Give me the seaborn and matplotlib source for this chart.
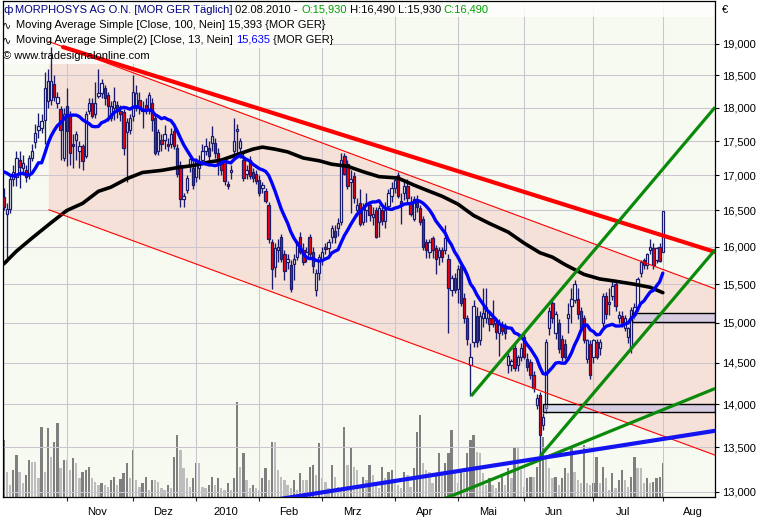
import numpy as np
import pandas as pd
import matplotlib
matplotlib.use("Agg")
import matplotlib.pyplot as plt
import seaborn as sns
from matplotlib.patches import Rectangle, Polygon
from matplotlib.ticker import FixedLocator, NullLocator, FuncFormatter, FixedFormatter

sns.set_style("white")
plt.rcParams['font.family'] = ['Liberation Sans', 'DejaVu Sans']

# ---------------- data (daily bars, MorphoSys, Oct 2009 - 02.08.2010) ----------------
opens = [16.69,16.45,16.52,16.95,16.98,17.22,17.10,17.08,17.00,17.25,
         17.48,17.66,17.70,17.82,18.10,18.12,18.36,18.08,17.98,17.25,
         18.02,17.87,17.45,17.52,17.36,17.42,17.28,17.95,18.08,17.90,
         18.18,18.22,18.30,18.20,17.85,18.00,18.05,17.95,17.93,17.63,
         17.67,17.87,18.00,18.12,17.98,18.05,17.97,18.08,17.85,17.36,
         17.52,17.51,17.45,17.45,17.65,17.40,17.15,16.66,16.79,17.13,
         17.10,16.98,17.10,17.22,17.36,17.40,17.47,17.47,17.32,17.17,
         17.22,16.88,17.05,17.36,17.65,17.39,17.22,17.02,17.22,17.05,
         17.02,16.93,16.82,16.77,16.57,16.06,15.73,15.95,16.13,15.90,
         15.80,15.76,15.77,15.86,16.14,15.95,15.88,16.14,15.93,15.42,
         15.65,15.82,16.00,15.99,16.14,16.22,16.25,16.34,17.28,17.17,
         16.90,16.99,16.51,16.60,16.34,16.51,16.57,16.41,16.50,16.34,
         16.50,16.36,16.56,16.70,16.82,17.00,16.64,16.75,16.85,16.62,
         16.38,16.62,16.54,16.38,16.06,15.93,16.12,15.98,15.86,15.95,
         15.95,15.84,15.42,15.58,15.44,15.74,15.32,15.06,14.47,14.76,
         15.09,14.78,15.06,15.06,15.06,15.06,15.00,14.87,14.97,14.93,
         14.47,14.47,14.68,14.47,14.57,14.82,14.55,14.51,14.35,13.99,
         14.11,13.76,13.96,14.93,15.26,14.87,15.00,14.80,14.73,15.06,
         15.22,15.29,15.31,15.15,15.06,14.55,14.74,14.57,14.76,14.68,
         15.00,15.35,15.24,15.35,15.50,15.06,15.09,14.94,14.82,14.68,
         15.10,15.20,15.65,15.82,15.76,15.95,15.98,15.82,16.00,15.93]

highs = [16.82,16.60,17.00,17.15,17.35,17.35,17.30,17.15,17.30,17.45,
         17.75,17.92,17.90,18.55,18.60,18.95,18.50,18.25,18.02,18.00,
         18.30,17.95,17.60,17.65,17.50,17.45,17.95,18.15,18.15,18.40,
         18.60,18.45,18.35,18.25,18.10,18.32,18.10,18.05,17.98,17.85,
         17.90,18.50,18.35,18.25,18.10,18.15,18.25,18.15,17.90,17.68,
         17.60,17.74,17.55,17.70,17.70,17.45,17.20,16.75,17.00,17.30,
         17.20,17.25,17.30,17.45,17.55,17.50,17.72,17.55,17.40,17.25,
         17.25,16.92,17.15,17.84,17.75,17.55,17.35,17.15,17.28,17.10,
         17.08,17.00,16.90,16.82,16.62,16.10,16.05,16.10,16.18,15.95,
         15.90,15.82,15.90,16.08,16.20,16.05,16.00,16.18,16.00,15.70,
         15.90,16.00,16.05,16.10,16.30,16.30,16.40,17.32,17.32,17.22,
         17.07,17.05,16.67,16.80,16.60,16.75,16.62,16.55,16.55,16.58,
         16.55,16.62,16.80,16.90,16.98,17.05,16.75,16.92,16.95,16.70,
         16.70,16.72,16.58,16.42,16.10,16.10,16.15,16.02,16.00,16.00,
         16.30,15.90,15.62,15.65,15.75,15.80,15.38,15.10,14.75,15.30,
         15.20,15.15,15.45,15.45,15.15,15.30,15.05,15.05,15.02,15.00,
         14.62,14.55,14.75,14.60,14.75,14.88,14.62,14.55,14.40,14.12,
         14.15,13.90,14.80,15.20,15.30,15.15,15.05,14.85,14.80,15.25,
         15.45,15.55,15.45,15.20,15.10,14.80,14.78,14.80,14.80,14.80,
         15.38,15.40,15.45,15.55,15.55,15.15,15.15,15.10,14.95,15.20,
         15.25,15.60,15.82,15.85,15.92,16.10,16.05,16.00,16.05,16.49]

lows = [16.50,15.80,16.47,16.85,16.85,16.82,17.00,16.90,16.95,17.20,
        17.40,17.55,17.62,17.45,18.00,18.05,18.10,18.00,17.22,17.20,
        17.14,17.15,17.10,17.22,17.10,17.08,17.25,17.90,17.85,17.85,
        18.15,18.15,18.05,17.80,17.80,17.82,17.85,17.80,17.29,16.90,
        17.60,17.80,17.95,17.90,17.70,17.90,17.90,17.65,17.30,17.30,
        17.35,17.38,17.35,17.40,17.38,16.98,16.55,16.55,16.75,17.05,
        16.80,16.90,16.95,17.15,17.30,17.20,17.35,17.25,17.00,17.00,
        16.86,16.80,16.95,17.22,17.32,17.25,16.92,16.95,16.95,16.90,
        16.88,16.70,16.75,16.60,16.05,15.44,15.60,15.80,15.80,15.55,
        15.70,15.40,15.55,15.82,15.90,15.75,15.80,15.85,15.65,15.35,
        15.55,15.75,15.90,15.90,16.05,16.05,16.15,16.30,17.00,16.80,
        16.47,16.60,16.42,16.28,16.30,16.34,16.35,16.30,16.12,16.14,
        16.30,16.25,16.50,16.62,16.75,16.68,16.31,16.65,16.62,16.42,
        16.35,16.48,16.30,15.95,15.85,15.85,15.85,15.63,15.75,15.80,
        15.90,14.87,15.35,15.38,15.26,15.22,15.00,14.72,14.10,14.70,
        14.70,14.72,14.95,15.00,14.90,14.95,14.80,14.58,14.85,14.80,
        14.38,14.40,14.40,14.40,14.52,14.55,14.40,14.30,14.15,13.95,
        13.40,13.70,13.90,14.85,15.00,14.80,14.62,14.52,14.55,14.87,
        15.00,15.25,15.05,14.90,14.75,14.50,14.30,14.50,14.55,14.60,
        14.95,15.05,15.10,15.30,15.15,15.00,14.95,14.90,14.75,14.62,
        15.05,15.15,15.60,15.70,15.70,15.90,15.70,15.78,15.80,15.93]

closes = [16.55,16.52,16.95,17.05,17.25,17.12,17.18,16.97,17.25,17.36,
          17.62,17.72,17.80,18.30,18.42,18.42,18.16,18.17,17.66,17.90,
          17.65,17.32,17.42,17.60,17.43,17.20,17.90,18.08,17.87,18.08,
          18.22,18.38,18.15,18.03,18.03,18.10,17.95,17.90,17.40,17.78,
          17.84,18.25,18.22,18.00,17.95,17.98,18.20,17.82,17.33,17.63,
          17.45,17.60,17.43,17.61,17.42,17.02,16.66,16.70,16.96,17.24,
          16.86,17.22,17.20,17.35,17.43,17.28,17.57,17.32,17.17,17.07,
          16.92,16.85,17.08,17.50,17.68,17.50,16.96,17.07,16.99,16.96,
          16.92,16.74,16.86,16.63,16.10,15.70,15.98,16.00,15.84,15.67,
          15.84,15.44,15.83,16.06,15.93,15.80,15.93,15.90,15.74,15.65,
          15.86,15.93,15.97,16.06,16.25,16.14,16.32,17.22,17.02,16.85,
          16.94,16.67,16.57,16.31,16.54,16.60,16.43,16.45,16.14,16.54,
          16.36,16.50,16.74,16.82,16.93,16.71,16.59,16.85,16.67,16.45,
          16.66,16.55,16.34,16.00,15.95,16.07,15.95,15.84,15.95,15.86,
          16.12,15.45,15.58,15.42,15.70,15.26,15.06,14.80,14.57,15.22,
          14.76,15.09,15.13,15.20,14.99,14.99,14.88,14.99,14.90,14.87,
          14.59,14.52,14.44,14.57,14.68,14.57,14.45,14.35,14.20,14.08,
          13.64,13.85,14.76,15.15,15.06,15.11,14.67,14.57,14.57,15.11,
          15.31,15.50,15.11,14.94,14.78,14.78,14.35,14.78,14.57,14.76,
          15.35,15.11,15.27,15.48,15.22,15.10,15.00,15.06,14.93,15.16,
          15.20,15.57,15.80,15.76,15.90,16.00,15.75,15.98,15.81,16.49]

volumes = [57,25,12,27,42,25,14,22,37,35, 35,19,70,25,69,40,55,74,29,37,
           37,27,39,34,19,25,27,30,19,15, 12,14,12,10,17,20,12,18,24,34,
           19,47,17,10,14,20,7,17,17,15, 9,7,12,9,40,62,47,29,19,10,
           19,34,34,10,9,12,20,12,19,9, 7,14,7,19,95,30,44,17,9,12,
           9,7,19,29,17,55,55,27,20,17, 12,9,17,7,24,17,17,30,32,22,
           54,19,15,9,32,20,10,9,70,32, 49,30,27,9,20,17,32,22,15,9,
           30,19,25,27,14,12,9,25,22,10, 29,65,82,34,27,25,14,22,44,24,
           34,44,67,24,14,27,24,44,57,62, 45,44,24,12,19,12,9,15,22,12,
           29,19,50,50,27,10,19,20,20,30, 39,60,39,29,19,20,12,19,29,24,
           50,25,17,14,52,14,12,14,40,14, 30,19,7,24,9,17,27,17,10,20,
           40,29,29,14,19,14,15,19,20,34]

# 13-day SMA of the first 12 bars (needs data before the chart start)
sma13_head = [17.05,17.03,17.00,16.99,17.00,17.02,17.03,17.01,17.00,17.03,17.10,17.18]

# 100-day SMA
sma100_bars = [0,4,9,15,20,25,30,34,39,44,50,55,60,65,69,74,79,82,86,90,95,100,104,
               109,114,119,125,130,135,139,144,149,154,160,165,170,174,178,184,189,194,200,205,209]
sma100_vals = [15.77,15.94,16.12,16.33,16.50,16.60,16.77,16.83,16.95,17.04,17.07,17.11,17.14,
               17.19,17.22,17.30,17.38,17.41,17.38,17.34,17.25,17.21,17.16,17.13,17.05,16.98,
               16.96,16.86,16.77,16.70,16.59,16.43,16.32,16.20,16.05,15.92,15.86,15.76,15.63,
               15.57,15.54,15.50,15.46,15.39]

month_labels = ["Nov", "Dez", "2010", "Feb", "Mrz", "Apr", "Mai", "Jun", "Jul", "Aug"]
month_start_bars = [20, 41, 61, 81, 101, 124, 144, 165, 187, 209]
price_ticks = [13.0, 13.5, 14.0, 14.5, 15.0, 15.5, 16.0, 16.5, 17.0, 17.5, 18.0, 18.5, 19.0]

# drawing tools: (bar anchors), (price anchors)
red_thick_bars, red_thick_prices = [18.8, 225.6], [18.95, 15.93]
chan_up_bars, chan_up_prices = [14.3, 225.6], [19.04, 15.44]
chan_lo_bars, chan_lo_prices = [14.3, 225.6], [16.51, 13.41]
green1_bars, green1_prices = [148.2, 225.6], [14.10, 18.01]
green2_bars, green2_prices = [170.1, 225.6], [13.40, 15.96]
green3_bars, green3_prices = [135.2, 225.6], [12.86, 14.19]
bluetr_bars, bluetr_prices = [78.1, 225.6], [12.87, 13.69]
zone1 = (199.2, 15.01, 15.13)
zone2 = (171.0, 13.91, 14.00)

# ---------------- figure ----------------
W, H = 769, 520
fig = plt.figure(figsize=(W / 100, H / 100), dpi=100)
fig.patch.set_facecolor("white")
L, R, T, B = 3, 715, 1, 497
pos = [L / W, 1 - B / H, (R - L) / W, (B - T) / H]
XL = (-0.25, 225.55)
YL = (12.943, 19.705)
BG = "#F7FAF0"
NAVY = "#1A1A6E"

# volume axis (underneath)
axv = fig.add_axes(pos, zorder=0)
axv.set_facecolor(BG)
n = len(closes)
bars = np.arange(n)
vcol = ["#7F7F7F" if (i == 0 or volumes[i] > volumes[i - 1]) else "#BDBDBD" for i in range(n)]
axv.bar(bars, volumes, width=0.72, color=vcol, linewidth=0)
axv.set_xlim(*XL)
axv.set_ylim(0, 496)
axv.set_xticks([]); axv.set_yticks([])
for s in axv.spines.values():
    s.set_visible(False)

# price axis
ax = fig.add_axes(pos, zorder=1)
ax.patch.set_visible(False)
ax.set_yscale("log")

# channel fill
poly = Polygon([(chan_up_bars[0], chan_up_prices[0]), (chan_up_bars[1], chan_up_prices[1]),
                (chan_lo_bars[1], chan_lo_prices[1]), (chan_lo_bars[0], chan_lo_prices[0])],
               closed=True, facecolor="#F5E1D7", edgecolor="none", zorder=0.3)
ax.add_patch(poly)

# legend background rows
def px_rect(x0, y0, x1, y1, **kw):
    return Rectangle(((x0 - L) / (R - L), (B - y1) / (B - T)), (x1 - x0) / (R - L),
                     (y1 - y0) / (B - T), transform=ax.transAxes, **kw)

for (x0, y0, x1, y1) in [(3, 1, 715, 17), (3, 17, 320, 33), (3, 33, 330, 48), (3, 48, 150, 64)]:
    ax.add_patch(px_rect(x0, y0, x1, y1, facecolor="white", edgecolor="none", alpha=0.85, zorder=0.8))

# candles
ax.vlines(bars, lows, highs, color=NAVY, linewidth=0.95, zorder=3)
o = np.array(opens); c = np.array(closes)
body_lo = np.minimum(o, c)
body_h = np.maximum(np.abs(c - o), 0.01)
body_col = np.where(c >= o, "white", "#FF0000")
ax.bar(bars, body_h, bottom=body_lo, width=0.74, color=body_col, edgecolor=NAVY,
       linewidth=0.9, zorder=3.2)

# zones
for (b0, p0, p1) in [zone1, zone2]:
    ax.add_patch(Rectangle((b0, p0), XL[1] - b0, p1 - p0, facecolor="#B4B4EB", alpha=0.45,
                           edgecolor="none", zorder=3.4))
    ax.add_patch(Rectangle((b0, p0), XL[1] - b0, p1 - p0, facecolor="none",
                           edgecolor="black", linewidth=1.0, zorder=3.5))

# moving averages
sma13 = pd.Series(closes).rolling(13).mean().to_numpy()
sma13[:12] = sma13_head
ma_df = pd.DataFrame({"bar": bars, "sma13": sma13})
sma100_df = pd.DataFrame({"bar": sma100_bars, "sma100": sma100_vals})
sns.lineplot(data=sma100_df, x="bar", y="sma100", ax=ax, color="black", linewidth=2.6, zorder=4)
sns.lineplot(data=ma_df, x="bar", y="sma13", ax=ax, color="#0000FF", linewidth=2.4, zorder=4.1)

# trend lines
ax.plot(chan_up_bars, chan_up_prices, color="#FF0000", linewidth=0.8, zorder=4.5)
ax.plot(chan_lo_bars, chan_lo_prices, color="#FF0000", linewidth=0.8, zorder=4.5)
ax.plot(red_thick_bars, red_thick_prices, color="#FF0000", linewidth=3.0, zorder=5)
for bx, py in [(green1_bars, green1_prices), (green2_bars, green2_prices), (green3_bars, green3_prices)]:
    ax.plot(bx, py, color="#0A8A0A", linewidth=2.3, zorder=5, solid_capstyle="butt")
ax.plot(bluetr_bars, bluetr_prices, color="#1414F0", linewidth=3.0, zorder=5)

# axes setup
ax.set_xlim(*XL)
ax.set_ylim(*YL)
ax.set_xlabel(""); ax.set_ylabel("")
ax.yaxis.set_major_locator(FixedLocator(price_ticks))
ax.yaxis.set_minor_locator(NullLocator())
ax.yaxis.set_major_formatter(FuncFormatter(lambda v, p: f"{v:.3f}".replace(".", ",")))
ax.yaxis.tick_right()
ax.tick_params(axis="y", which="major", direction="out", length=3, width=0.8, pad=2,
               labelsize=8, colors="black", right=True, left=False)
ax.xaxis.set_major_locator(FixedLocator(month_start_bars))
ax.xaxis.set_major_formatter(FixedFormatter([""] * len(month_start_bars)))
ax.xaxis.set_minor_locator(FixedLocator([m + 9.5 for m in month_start_bars]))
ax.xaxis.set_minor_formatter(FixedFormatter(month_labels))
ax.tick_params(axis="x", which="major", direction="out", length=3, width=0.8, bottom=True)
ax.tick_params(axis="x", which="minor", length=0, pad=7, labelsize=8, colors="black", bottom=True)
ax.grid(True, which="major", axis="both", color="#CBC5CF", linewidth=0.75)
ax.set_axisbelow(True)
for s in ax.spines.values():
    s.set_visible(True); s.set_color("black"); s.set_linewidth(0.9)

# header / legend texts
def chain(parts, x, y, size=8):
    t = fig.text(x / W, 1 - y / H, parts[0][0], color=parts[0][1], fontsize=size,
                 va="center", ha="left", zorder=10)
    for s, col in parts[1:]:
        t = ax.annotate(s, xy=(1, 0.5), xycoords=t, va="center", ha="left", color=col,
                        fontsize=size, annotation_clip=False, zorder=10)
    return t

fig.text(3 / W, 1 - 10 / H, "ф", color="#000080", fontsize=8, va="center", ha="left",
         family=["DejaVu Sans"], zorder=10)
chain([("MORPHOSYS AG O.N. [MOR GER Täglich]", "#000080"), (" 02.08.2010 - ", "black"),
       ("O:15,930", "#00A000"), (" H:16,490 L:15,930 ", "black"), ("C:16,490", "#00A000")], 15, 10)
for yy in (25, 40):
    fig.text(2 / W, 1 - yy / H, "∿", color="black", fontsize=8, va="center", ha="left",
             family=["DejaVu Sans"], zorder=10)
chain([("Moving Average Simple [Close, 100, Nein] 15,393 {MOR GER}", "black")], 16, 25)
chain([("Moving Average Simple(2) [Close, 13, Nein] ", "black"), ("15,635", "#0000FF"),
       (" {MOR GER}", "black")], 16, 40)
fig.text(3 / W, 1 - 56 / H, "© www.tradesignalonline.com", color="black", fontsize=8,
         va="center", ha="left", zorder=10)
fig.text(722 / W, 1 - 10 / H, "€", color="black", fontsize=8, va="center", ha="left")

fig.savefig("out.png", dpi=100, facecolor="white")
